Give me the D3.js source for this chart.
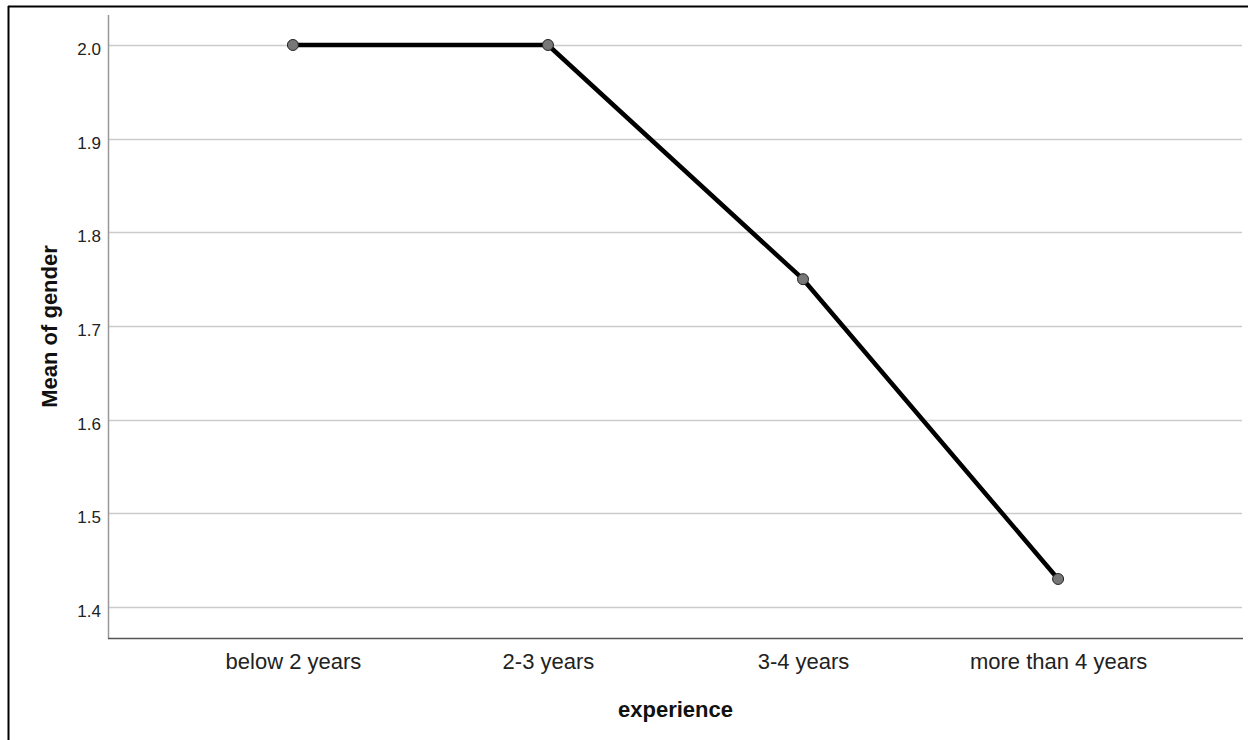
<!DOCTYPE html>
<html><head><meta charset="utf-8">
<script src="https://cdn.jsdelivr.net/npm/d3@7"></script>
<style>html,body{margin:0;padding:0;background:#fff;}svg{display:block;}</style>
</head><body>
<svg id="chart" width="1248" height="740"></svg>
<script>
const categories = ["below 2 years", "2-3 years", "3-4 years", "more than 4 years"];
const meanValues = [2.0, 2.0, 1.75, 1.43];
const yTicks = [1.4, 1.5, 1.6, 1.7, 1.8, 1.9, 2.0];
const xTitle = "experience";
const yTitle = "Mean of gender";

(function () {
const svg = d3.select("#chart");
const pL = 108, pR = 1243, pT = 15, pB = 638;
const FONT = "Liberation Sans, Arial, sans-serif";

// outer frame
svg.append("line").attr("x1", 8).attr("x2", 1248).attr("y1", 6.5).attr("y2", 6.5).attr("stroke", "#000").attr("stroke-width", 2);
svg.append("line").attr("x1", 8.5).attr("x2", 8.5).attr("y1", 6).attr("y2", 740).attr("stroke", "#000").attr("stroke-width", 2);

const x = d3.scalePoint().domain(categories).range([pL, pR]).padding(0.725);
const y = d3.scaleLinear().domain([1.367, 2.032]).range([pB, pT]);

// gridlines
svg.append("g").selectAll("line").data(yTicks).join("line")
  .attr("x1", pL).attr("x2", pR - 1)
  .attr("y1", d => Math.round(y(d)) + 0.5).attr("y2", d => Math.round(y(d)) + 0.5)
  .attr("stroke", "#cccccc").attr("stroke-width", 1.5);

// y axis
const yAxis = svg.append("g").attr("transform", `translate(${pL},0)`)
  .call(d3.axisLeft(y).tickValues(yTicks).tickFormat(d3.format(".1f")).tickSize(0).tickPadding(7));
yAxis.select(".domain").remove();
yAxis.selectAll("text").attr("font-family", FONT).attr("font-size", 17).attr("fill", "#222").attr("dy", "0.55em");
svg.append("line").attr("x1", pL + 0.5).attr("x2", pL + 0.5).attr("y1", pT).attr("y2", pB).attr("stroke", "#999").attr("stroke-width", 1.5);

// x axis
const xAxis = svg.append("g").attr("transform", `translate(0,${pB})`)
  .call(d3.axisBottom(x).tickSize(0).tickPadding(15));
xAxis.select(".domain").remove();
xAxis.selectAll("text").attr("font-family", FONT).attr("font-size", 22).attr("fill", "#222");
svg.append("line").attr("x1", pL).attr("x2", pR).attr("y1", pB + 0.5).attr("y2", pB + 0.5).attr("stroke", "#555").attr("stroke-width", 1.5);

// titles
svg.append("text").attr("x", (pL + pR) / 2).attr("y", 717).attr("text-anchor", "middle")
  .attr("font-family", FONT).attr("font-size", 22).attr("font-weight", "bold").attr("fill", "#111").text(xTitle);
svg.append("text").attr("transform", `translate(57,${(pT + pB) / 2}) rotate(-90)`).attr("text-anchor", "middle")
  .attr("font-family", FONT).attr("font-size", 22).attr("font-weight", "bold").attr("fill", "#111").text(yTitle);

// line
const data = categories.map((c, i) => ({c, v: meanValues[i]}));
svg.append("path").datum(data)
  .attr("d", d3.line().x(d => x(d.c)).y(d => y(d.v)))
  .attr("fill", "none").attr("stroke", "#000").attr("stroke-width", 4.5).attr("stroke-linejoin", "round");
svg.append("g").selectAll("circle").data(data).join("circle")
  .attr("cx", d => x(d.c)).attr("cy", d => y(d.v)).attr("r", 5.5)
  .attr("fill", "#777").attr("stroke", "#222").attr("stroke-width", 1);
})();
</script>
</body></html>
